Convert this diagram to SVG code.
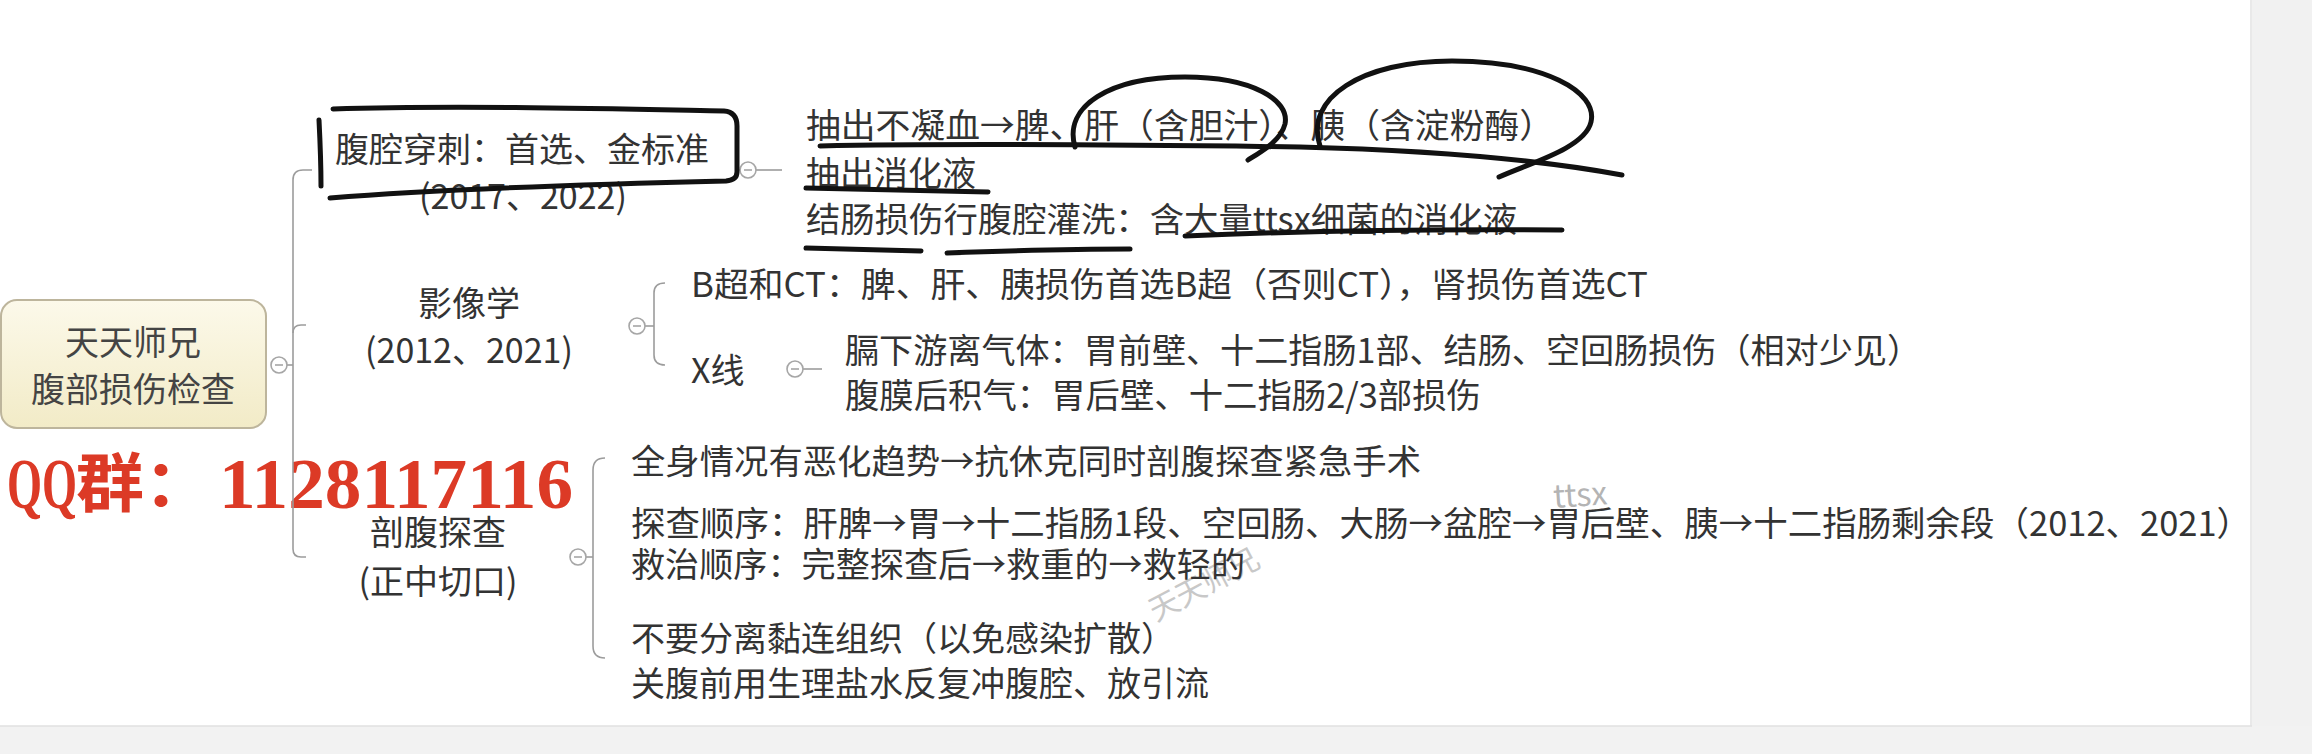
<svg xmlns="http://www.w3.org/2000/svg" width="2312" height="754" viewBox="0 0 2312 754">
<defs>
<style>
.t{font-family:"Noto Sans CJK SC","Microsoft YaHei",sans-serif;font-size:34px;fill:#333;dominant-baseline:central}
.c{text-anchor:middle}
.ln{fill:none;stroke:#9c9c9c;stroke-width:1.6}
.ink{fill:none;stroke:#111;stroke-width:5;stroke-linecap:round;stroke-linejoin:round}
.red{fill:#dc3a26;font-weight:bold}
.wm{font-family:"Noto Sans CJK SC",sans-serif}
</style>
<linearGradient id="rootFill" x1="0" y1="0" x2="0" y2="1">
<stop offset="0" stop-color="#fcf9ea"/>
<stop offset="1" stop-color="#f2ebc7"/>
</linearGradient>
<g id="col">
<circle r="8" fill="#fff" stroke="#a6a6a6" stroke-width="1.6"/>
<line x1="-4" y1="0" x2="4" y2="0" stroke="#a6a6a6" stroke-width="1.6"/>
</g>
</defs>
<rect width="2312" height="754" fill="#fff"/>
<rect x="2252" y="0" width="60" height="754" fill="#f1f1f1"/>
<line x1="2251" y1="0" x2="2251" y2="726" stroke="#e2e2e2" stroke-width="1.5"/>
<rect x="0" y="726" width="2312" height="28" fill="#f2f2f2"/>
<line x1="0" y1="726" x2="2252" y2="726" stroke="#e0e0e0" stroke-width="1.5"/>

<g id="watermark">
<text x="7" y="508" class="red" textLength="70" lengthAdjust="spacingAndGlyphs" style="font-family:'Liberation Serif',serif;font-size:72px">QQ</text>
<text x="76" y="506" class="red" textLength="136" lengthAdjust="spacingAndGlyphs" style="font-family:'Noto Sans CJK SC',sans-serif;font-size:64px">群：</text>
<text x="219" y="508" class="red" textLength="354" lengthAdjust="spacingAndGlyphs" style="font-family:'Liberation Serif',serif;font-size:72px">1128117116</text>
<text x="1554" y="508" class="wm" font-size="32" fill="#b4b4b4" transform="rotate(-4 1554 508)">ttsx</text>
<text x="1156" y="622" class="wm" font-size="30" fill="#c8c8c8" transform="rotate(-28 1156 622)">天天师兄</text>
</g>

<g id="connectors">
<line class="ln" x1="287" y1="365" x2="293" y2="365"/>
<path class="ln" d="M293 549 L293 180 Q293 170 303 170 L312 170"/>
<path class="ln" d="M293 333 Q293 325 301 325 L306 325"/>
<path class="ln" d="M293 549 Q293 557 301 557 L306 557"/>
<line class="ln" x1="737" y1="170" x2="740" y2="170"/>
<line class="ln" x1="756" y1="170" x2="782" y2="170"/>
<line class="ln" x1="645" y1="326" x2="654" y2="326"/>
<path class="ln" d="M665 283 Q654 283 654 293 L654 355 Q654 365 665 365"/>
<line class="ln" x1="803" y1="369" x2="822" y2="369"/>
<line class="ln" x1="586" y1="557" x2="593" y2="557"/>
<path class="ln" d="M605 458 Q593 458 593 470 L593 646 Q593 658 605 658"/>
<use href="#col" x="279" y="365"/>
<use href="#col" x="748" y="170"/>
<use href="#col" x="637" y="326"/>
<use href="#col" x="795" y="369"/>
<use href="#col" x="578" y="557"/>
</g>

<g id="root">
<rect x="1" y="300" width="265" height="128" rx="16" fill="url(#rootFill)" stroke="#bdb59c" stroke-width="2"/>
<text class="t c" x="133" y="340" style="fill:#444">天天师兄</text>
<text class="t c" x="133" y="387" style="fill:#444">腹部损伤检查</text>
</g>

<g id="b1">
<text class="t" x="335" y="147">腹腔穿刺：首选、金标准</text>
<text class="t c" x="523" y="194">(2017、2022)</text>
</g>
<g id="b1-children">
<text class="t" x="806" y="123" textLength="748" lengthAdjust="spacingAndGlyphs">抽出不凝血→脾、肝（含胆汁）、胰（含淀粉酶）</text>
<text class="t" x="806" y="171">抽出消化液</text>
<text class="t" x="806" y="217" textLength="711" lengthAdjust="spacingAndGlyphs">结肠损伤行腹腔灌洗：含大量ttsx细菌的消化液</text>
</g>

<g id="b2">
<text class="t c" x="469" y="301">影像学</text>
<text class="t c" x="469" y="348">(2012、2021)</text>
</g>
<g id="b2-bct">
<text class="t" x="691" y="282" textLength="957" lengthAdjust="spacingAndGlyphs">B超和CT：脾、肝、胰损伤首选B超（否则CT），肾损伤首选CT</text>
</g>
<g id="b2-xray">
<text class="t" x="691" y="368">X线</text>
</g>
<g id="b2-xray-children">
<text class="t" x="845" y="348" textLength="1076" lengthAdjust="spacingAndGlyphs">膈下游离气体：胃前壁、十二指肠1部、结肠、空回肠损伤（相对少见）</text>
<text class="t" x="845" y="393" textLength="636" lengthAdjust="spacingAndGlyphs">腹膜后积气：胃后壁、十二指肠2/3部损伤</text>
</g>

<g id="b3">
<text class="t c" x="438" y="530">剖腹探查</text>
<text class="t c" x="438" y="579">(正中切口)</text>
</g>
<g id="b3-c1">
<text class="t" x="631" y="459" textLength="790" lengthAdjust="spacingAndGlyphs">全身情况有恶化趋势→抗休克同时剖腹探查紧急手术</text>
</g>
<g id="b3-c2">
<text class="t" x="631" y="521" textLength="1620" lengthAdjust="spacingAndGlyphs">探查顺序：肝脾→胃→十二指肠1段、空回肠、大肠→盆腔→胃后壁、胰→十二指肠剩余段（2012、2021）</text>
<text class="t" x="631" y="562" textLength="614" lengthAdjust="spacingAndGlyphs">救治顺序：完整探查后→救重的→救轻的</text>
</g>
<g id="b3-c3">
<text class="t" x="631" y="636">不要分离黏连组织（以免感染扩散）</text>
<text class="t" x="631" y="681">关腹前用生理盐水反复冲腹腔、放引流</text>
</g>

<g id="annotations">
<path class="ink" d="M319 120 C320 140, 321 165, 321 186"/>
<path class="ink" d="M333 109 C460 105, 620 109, 724 111 Q737 112 737 126 L737 172 Q737 180 726 181 C600 184, 430 190, 330 198"/>
<path class="ink" d="M1075 147 C1063 106, 1110 77, 1185 77 C1252 77, 1290 100, 1285 124 C1281 140, 1264 150, 1248 160"/>
<path class="ink" d="M1320 146 C1304 98, 1362 61, 1452 61 C1545 61, 1598 92, 1591 122 C1585 148, 1530 163, 1499 177"/>
<path class="ink" d="M820 146 C960 143, 1150 145, 1300 147 C1420 150, 1530 158, 1622 175"/>
<path class="ink" d="M806 188 C880 190, 940 191, 988 192"/>
<path class="ink" d="M1185 236 C1300 231, 1450 229, 1562 230"/>
<path class="ink" d="M806 248 C850 249, 890 250, 921 251"/>
<path class="ink" d="M947 253 C1030 250, 1100 249, 1130 249"/>
</g>
</svg>
